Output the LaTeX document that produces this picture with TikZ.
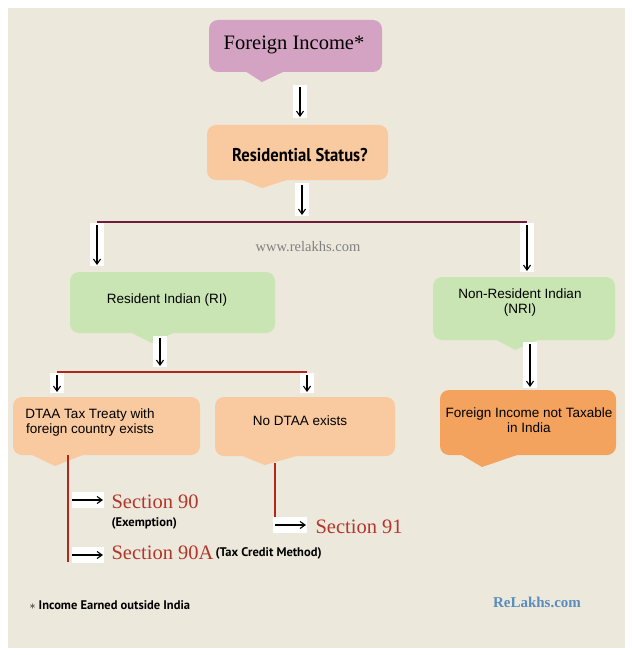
\documentclass[tikz,border=0pt]{standalone}
\usepackage{fontspec}
\setmainfont{Liberation Serif}
\setsansfont{Liberation Sans}
\newfontfamily\ptsans{PT Sans}
\usetikzlibrary{arrows.meta}
\definecolor{paper}{HTML}{EDE8DC}
\definecolor{pink}{HTML}{D4A3C3}
\definecolor{peach}{HTML}{F9C9A0}
\definecolor{mint}{HTML}{C9E5B3}
\definecolor{orng}{HTML}{F4A35F}
\definecolor{maroon}{HTML}{6E1D3C}
\definecolor{redl}{HTML}{B3261E}
\definecolor{sect}{HTML}{B0372A}
\definecolor{blu}{HTML}{5A8DBB}
\tikzset{
 x=1pt,y=-1pt,
 bx/.style={rounded corners=9pt},
 ar/.style={-{Straight Barb[length=5pt,width=7pt]},line width=1.1pt,black},
 wb/.style={fill=white,draw=none},
 tx/.style={font=\sffamily\fontsize{13.5}{15}\selectfont,align=center,text=black},
 ln/.style={line width=2.6pt},
 sec/.style={anchor=west,font=\fontsize{20.5}{22}\selectfont,text=sect},
 small/.style={anchor=west,font=\ptsans\bfseries\fontsize{12.5}{14}\selectfont},
}
\begin{document}
\begin{tikzpicture}
\useasboundingbox (0,0) rectangle (631,655);
\fill[white] (0,0) rectangle (631,655);
\fill[paper] (8,8) rectangle (625,648);
% boxes
\fill[pink,bx] (209,20) rectangle (382,72); \fill[pink] (245,71)--(285,71)--(262,82)--cycle;
\node[font=\fontsize{20.5}{22}\selectfont] (fi) at (294,45) {Foreign Income*};
\fill[peach,bx] (207,125) rectangle (388,180); \fill[peach] (240,179)--(290,179)--(262,188)--cycle;
\node[font=\ptsans\bfseries\fontsize{18.5}{19}\selectfont,xscale=0.9] (rs) at (300,155) {Residential Status?};
\fill[mint,bx] (70,272) rectangle (275,333); \fill[mint] (130,332)--(175,332)--(152,343)--cycle;
\node[tx] (ri) at (167,300) {Resident Indian (RI)};
\fill[mint,bx] (433,277) rectangle (615,340); \fill[mint] (495,339)--(540,339)--(515,350)--cycle;
\node[tx] (nri) at (520,303) {Non-Resident Indian\\(NRI)};
\fill[peach,bx] (13,397) rectangle (200,455); \fill[peach] (30,454)--(85,454)--(55,466)--cycle;
\node[tx] (dt) at (90,423) {DTAA Tax Treaty with\\foreign country exists};
\fill[peach,bx] (215,397) rectangle (395,456); \fill[peach] (240,455)--(300,455)--(265,465)--cycle;
\node[tx] (nd) at (300,421) {No DTAA exists};
\fill[orng,bx] (440,390) rectangle (616,455); \fill[orng] (460,454)--(520,454)--(482,467)--cycle;
\node[tx] (fn) at (529,420) {Foreign Income not Taxable\\in India};
% connectors
\coordinate (h1) at (97,222); \coordinate (h2) at (527,222);
\draw[maroon,ln] (h1)--(h2);
\coordinate (r1) at (57,372); \coordinate (r2) at (307,372);
\draw[redl,ln] (r1)--(r2);
\foreach \x/\ya/\yb in {300/85/118, 302/183/216, 97/223/266, 527/223/272, 160/336/367, 530/342/388, 57/373/393, 307/373/393}{
  \fill[wb] (\x-7,\ya) rectangle (\x+7,\yb);
  \draw[ar] (\x,\ya+2) -- (\x,\yb-1);
}
\coordinate (v1) at (68,455); \coordinate (v1b) at (68,562);
\draw[redl,ln] (v1)--(v1b);
\coordinate (v2) at (275,463); \coordinate (v2b) at (275,523);
\draw[redl,ln] (v2)--(v2b);
\fill[wb] (72,492) rectangle (104,508); \draw[ar] (72,500)--(103,500);
\fill[wb] (72,547) rectangle (104,563); \draw[ar] (72,555)--(103,555);
\fill[wb] (273,517) rectangle (307,533); \draw[ar] (275,525)--(306,525);
\node[sec] (s90) at (108,502) {Section 90};
\node[small] (ex) at (108,523) {(Exemption)};
\node[sec] (s90a) at (108,553) {Section 90A};
\node[small] at (s90a.east) [anchor=west,xshift=-5pt] {(Tax Credit Method)};
\node[sec] (s91) at (312,527) {Section 91};
\node[gray,font=\fontsize{14.5}{16}\selectfont] (www) at (308,247) {www.relakhs.com};
\node[small] (fo) at (26,605) {$\ast$ Income Earned outside India};
\node[blu,font=\fontsize{15}{16}\selectfont\bfseries] (rl) at (537,602) {ReLakhs.com};
\end{tikzpicture}
\end{document}
